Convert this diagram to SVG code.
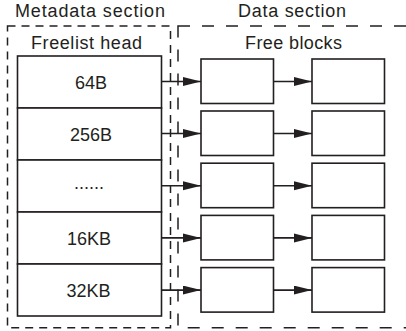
<svg xmlns="http://www.w3.org/2000/svg" width="406" height="331" viewBox="0 0 406 331">
<defs>
<marker id="ah" markerUnits="userSpaceOnUse" markerWidth="19" markerHeight="10" refX="18" refY="4.5" orient="auto">
<path d="M0,0 L18,4.5 L0,9 Z" fill="#231f20"/>
</marker>
</defs>
<style>
text{font-family:"Liberation Sans",Arial,sans-serif;font-size:18px;fill:#231f20;text-anchor:middle}
.sec{fill:none;stroke:#231f20;stroke-width:1.5}
.row,.blk{fill:#fff;stroke:#231f20;stroke-width:1.6}
.conn line{stroke:#231f20;stroke-width:1.6}
</style>
<rect width="406" height="331" fill="#fff"/>
<g id="metadata-section">
<rect class="sec" x="7.5" y="26" width="163" height="301.7" stroke-dasharray="8 6"/>
<text x="90" y="17" textLength="150">Metadata section</text>
</g>
<g id="data-section">
<rect class="sec" x="178" y="26" width="232" height="301.7" stroke-dasharray="12 12"/>
<text x="292" y="17" textLength="108">Data section</text>
</g>
<g id="freelist-head">
<text x="86.5" y="49" textLength="111">Freelist head</text>
</g>
<g id="free-blocks">
<text x="293.5" y="49" textLength="97">Free blocks</text>
</g>
<g id="row-64B"><rect class="row" x="17.5" y="56" width="144" height="52"/><text x="91" y="88.5">64B</text></g>
<g id="row-256B"><rect class="row" x="17.5" y="108" width="144" height="52"/><text x="91" y="140.5">256B</text></g>
<g id="row-dots"><rect class="row" x="17.5" y="160" width="144" height="52"/><text x="89" y="188.5">......</text></g>
<g id="row-16KB"><rect class="row" x="17.5" y="212" width="144" height="52"/><text x="89" y="244.5">16KB</text></g>
<g id="row-32KB"><rect class="row" x="17.5" y="264" width="144" height="52"/><text x="88.5" y="296.5">32KB</text></g>
<g id="block-1a"><rect class="blk" x="201" y="59" width="72.5" height="44.5"/></g>
<g id="block-1b"><rect class="blk" x="312" y="59" width="72.5" height="44.5"/></g>
<g id="block-2a"><rect class="blk" x="201" y="111" width="72.5" height="44.5"/></g>
<g id="block-2b"><rect class="blk" x="312" y="111" width="72.5" height="44.5"/></g>
<g id="block-3a"><rect class="blk" x="201" y="163.2" width="72.5" height="44.5"/></g>
<g id="block-3b"><rect class="blk" x="312" y="163.2" width="72.5" height="44.5"/></g>
<g id="block-4a"><rect class="blk" x="201" y="215.4" width="72.5" height="44.5"/></g>
<g id="block-4b"><rect class="blk" x="312" y="215.4" width="72.5" height="44.5"/></g>
<g id="block-5a"><rect class="blk" x="201" y="267.6" width="72.5" height="44.5"/></g>
<g id="block-5b"><rect class="blk" x="312" y="267.6" width="72.5" height="44.5"/></g>
<g id="connectors" class="conn">
<line x1="161.5" y1="81.5" x2="201" y2="81.5" marker-end="url(#ah)"/>
<line x1="273.5" y1="81.5" x2="312" y2="81.5" marker-end="url(#ah)"/>
<line x1="161.5" y1="133.5" x2="201" y2="133.5" marker-end="url(#ah)"/>
<line x1="273.5" y1="133.5" x2="312" y2="133.5" marker-end="url(#ah)"/>
<line x1="161.5" y1="185.7" x2="201" y2="185.7" marker-end="url(#ah)"/>
<line x1="273.5" y1="185.7" x2="312" y2="185.7" marker-end="url(#ah)"/>
<line x1="161.5" y1="237.9" x2="201" y2="237.9" marker-end="url(#ah)"/>
<line x1="273.5" y1="237.9" x2="312" y2="237.9" marker-end="url(#ah)"/>
<line x1="161.5" y1="290.1" x2="201" y2="290.1" marker-end="url(#ah)"/>
<line x1="273.5" y1="290.1" x2="312" y2="290.1" marker-end="url(#ah)"/>
</g>
</svg>
